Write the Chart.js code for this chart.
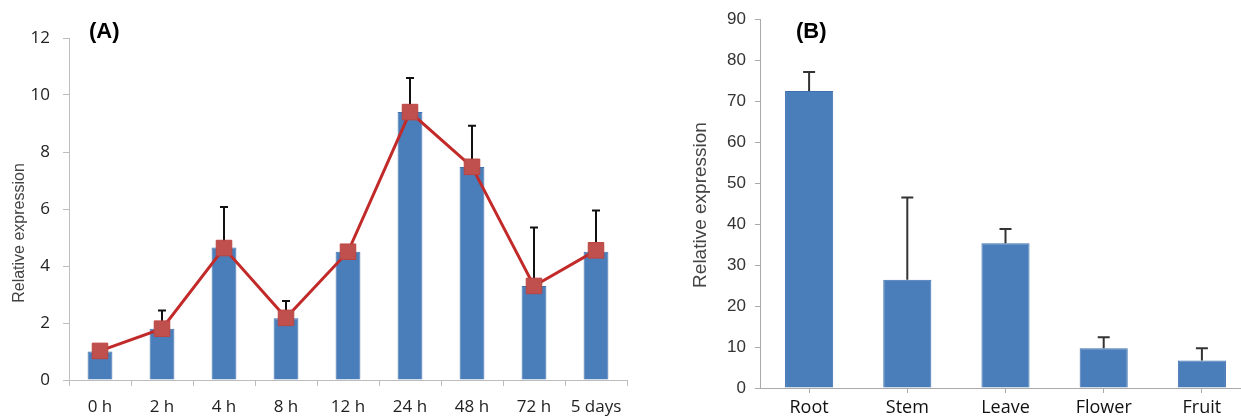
<!DOCTYPE html>
<html lang="en">
<head>
    <meta charset="UTF-8">
    <title>Relative expression</title>
    <script src="https://cdn.jsdelivr.net/npm/chart.js"></script>
    <style>
        html, body { margin: 0; padding: 0; background: #fff; }
        body { width: 1241px; height: 417px; overflow: hidden; position: relative; }
        #chartA { position: absolute; left: 0; top: 0; }
        #chartB { position: absolute; left: 660px; top: 0; }
    </style>
</head>
<body>
    <canvas id="chartA" width="650" height="417"></canvas>
    <canvas id="chartB" width="600" height="417"></canvas>

    <script>
        // (A) time course
        const timeLabels = ['0 h', '2 h', '4 h', '8 h', '12 h', '24 h', '48 h', '72 h', '5 days'];
        const timeBars = [1.0, 1.8, 4.65, 2.17, 4.5, 9.4, 7.47, 3.3, 4.5];
        const timeLine = [1.02, 1.8, 4.63, 2.18, 4.5, 9.4, 7.48, 3.3, 4.55];
        const timeErr = [0, 0.64, 1.42, 0.6, 0, 1.2, 1.45, 2.05, 1.45];

        // (B) tissues
        const tissueLabels = ['Root', 'Stem', 'Leave', 'Flower', 'Fruit'];
        const tissueValues = [72.5, 26.4, 35.3, 9.7, 6.7];
        const tissueErr = [4.6, 20.1, 3.5, 2.7, 3.0];

        // draws the upper error bar right after the bar dataset, so the line sits on top
        const errorBars = {
            id: 'errorBars',
            afterDatasetDraw(chart, args, opts) {
                if (args.index !== opts.datasetIndex) return;
                const { ctx } = chart;
                const y = chart.scales.y;
                const vals = chart.data.datasets[args.index].data;
                ctx.save();
                ctx.strokeStyle = opts.color;
                ctx.lineWidth = opts.width;
                args.meta.data.forEach((bar, i) => {
                    if (!opts.errors[i]) return;
                    const y0 = y.getPixelForValue(vals[i]);
                    const y1 = y.getPixelForValue(vals[i] + opts.errors[i]);
                    ctx.beginPath();
                    ctx.moveTo(bar.x, y0);
                    ctx.lineTo(bar.x, y1);
                    ctx.moveTo(bar.x - opts.cap / 2, y1);
                    ctx.lineTo(bar.x + opts.cap / 2, y1);
                    ctx.stroke();
                });
                ctx.restore();
            }
        };

        // panel letter and rotated y title
        const panelText = {
            id: 'panelText',
            afterDraw(chart, args, opts) {
                const { ctx } = chart;
                ctx.save();
                ctx.fillStyle = '#000';
                ctx.font = opts.letterFont;
                ctx.textBaseline = 'middle';
                ctx.textAlign = 'left';
                ctx.fillText(opts.letter, opts.letterX, opts.letterY);
                ctx.translate(opts.titleX, opts.titleY);
                ctx.rotate(-Math.PI / 2);
                ctx.textAlign = 'center';
                ctx.fillStyle = opts.titleColor;
                ctx.font = opts.titleFont;
                ctx.fillText('Relative expression', 0, 0);
                ctx.restore();
            }
        };

        new Chart(document.getElementById('chartA'), {
            type: 'bar',
            data: {
                labels: timeLabels,
                datasets: [
                    {
                        type: 'line',
                        data: timeLine,
                        order: 0,
                        borderColor: '#c22a2a',
                        borderWidth: 3,
                        pointStyle: 'rect',
                        pointRadius: 11,
                        pointBackgroundColor: '#c0504d',
                        pointBorderColor: '#bb4542',
                        pointBorderWidth: 1
                    },
                    {
                        data: timeBars,
                        order: 1,
                        backgroundColor: '#4a7ebb',
                        borderColor: '#3f70ad',
                        borderWidth: 1,
                        categoryPercentage: 1,
                        barPercentage: 0.4
                    }
                ]
            },
            options: {
                responsive: false,
                animation: false,
                layout: { padding: { left: 0, right: 23, top: 38, bottom: 0 } },
                plugins: {
                    legend: { display: false },
                    tooltip: { enabled: false },
                    errorBars: { datasetIndex: 1, errors: timeErr, color: '#111', width: 2, cap: 8 },
                    panelText: {
                        letter: '(A)', letterX: 89, letterY: 32, letterFont: 'bold 22px "Liberation Sans", Arial',
                        titleX: 20, titleY: 233, titleColor: '#444', titleFont: '16px "Liberation Sans", Arial'
                    }
                },
                scales: {
                    x: {
                        offset: true,
                        afterFit: (s) => { s.height = 37; },
                        border: { color: '#bdbdbd', width: 1 },
                        grid: { offset: true, drawOnChartArea: false, color: '#bdbdbd', tickLength: 6 },
                        ticks: { color: '#222', padding: 11, maxRotation: 0, font: { family: '"Open Sans"', size: 17 } }
                    },
                    y: {
                        min: 0,
                        max: 12,
                        afterFit: (s) => { s.width = 69; },
                        border: { color: '#bdbdbd', width: 1 },
                        grid: { drawOnChartArea: false, color: '#bdbdbd', tickLength: 6 },
                        ticks: { stepSize: 2, color: '#222', padding: 13, font: { family: '"Open Sans"', size: 17 } }
                    }
                }
            },
            plugins: [errorBars, panelText]
        });

        new Chart(document.getElementById('chartB'), {
            type: 'bar',
            data: {
                labels: tissueLabels,
                datasets: [
                    {
                        data: tissueValues,
                        backgroundColor: '#4a7ebb',
                        borderColor: '#3f70ad',
                        borderWidth: 1,
                        categoryPercentage: 1,
                        barPercentage: 0.49
                    }
                ]
            },
            options: {
                responsive: false,
                animation: false,
                layout: { padding: { left: 0, right: 9, top: 19, bottom: 0 } },
                plugins: {
                    legend: { display: false },
                    tooltip: { enabled: false },
                    errorBars: { datasetIndex: 0, errors: tissueErr, color: '#333', width: 2, cap: 12 },
                    panelText: {
                        letter: '(B)', letterX: 136, letterY: 32, letterFont: 'bold 22px "Liberation Sans", Arial',
                        titleX: 41, titleY: 205, titleColor: '#444', titleFont: '19px "Liberation Sans", Arial'
                    }
                },
                scales: {
                    x: {
                        offset: true,
                        afterFit: (s) => { s.height = 29; },
                        border: { color: '#aaa', width: 1 },
                        grid: { offset: false, drawOnChartArea: false, color: '#aaa', tickLength: 5 },
                        ticks: { color: '#111', padding: 4, maxRotation: 0, font: { family: '"Open Sans"', size: 18 } }
                    },
                    y: {
                        min: 0,
                        max: 90,
                        afterFit: (s) => { s.width = 100; },
                        border: { color: '#aaa', width: 1 },
                        grid: { drawOnChartArea: false, color: '#aaa', tickLength: 5 },
                        ticks: { stepSize: 10, color: '#333', padding: 9, font: { family: '"Liberation Sans"', size: 17 } }
                    }
                }
            },
            plugins: [errorBars, panelText]
        });
    </script>
</body>
</html>
